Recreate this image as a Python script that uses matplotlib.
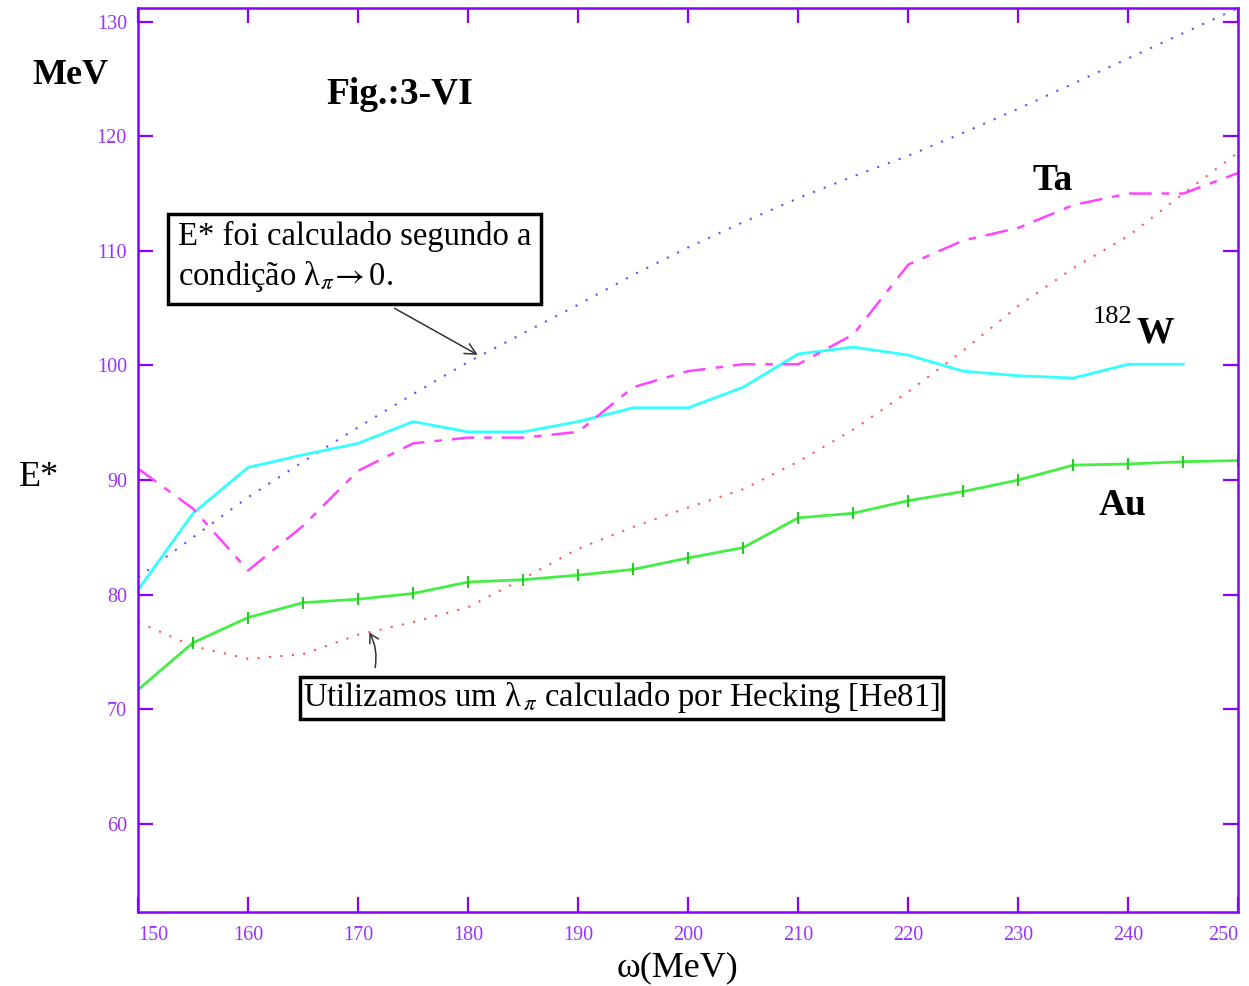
import numpy as np
import matplotlib.pyplot as plt

plt.rcParams['font.family'] = ['Liberation Serif', 'DejaVu Sans']
plt.rcParams['mathtext.fontset'] = 'stix'

# omega (MeV), 5 MeV steps
omega = [150, 155, 160, 165, 170, 175, 180, 185, 190, 195, 200,
         205, 210, 215, 220, 225, 230, 235, 240, 245, 250]

# E* with lambda_pi -> 0 (blue dotted)
e_lambda0 = [81.5, 85.0, 88.5, 91.6, 94.6, 97.5, 100.3, 102.8, 105.3, 107.9, 110.3,
             112.5, 114.6, 116.5, 118.3, 120.3, 122.4, 124.6, 126.8, 129.0, 131.2]
# 182W (cyan), ends at 245
e_w = [80.4, 87.1, 91.1, 92.2, 93.2, 95.1, 94.2, 94.2, 95.1, 96.3, 96.3,
       98.1, 101.0, 101.6, 100.9, 99.5, 99.1, 98.9, 100.1, 100.1]
# Ta (magenta dash-dot)
e_ta = [91.0, 87.5, 82.1, 86.0, 90.8, 93.2, 93.7, 93.7, 94.2, 98.1, 99.5,
        100.1, 100.1, 102.7, 108.8, 110.9, 112.0, 114.0, 115.0, 115.0, 116.8]
# Au (green, markers)
e_au = [71.7, 75.8, 78.0, 79.3, 79.6, 80.1, 81.1, 81.3, 81.7, 82.2, 83.2,
        84.1, 86.7, 87.1, 88.2, 89.0, 90.0, 91.3, 91.4, 91.6, 91.7]
# Au with lambda_pi from Hecking (red dotted)
e_au_heck = [77.6, 75.5, 74.4, 74.8, 76.5, 77.6, 78.9, 81.4, 84.0, 85.9, 87.6,
             89.2, 91.6, 94.4, 97.7, 101.3, 105.2, 108.5, 111.3, 115.0, 118.6]

xticks = [150, 160, 170, 180, 190, 200, 210, 220, 230, 240, 250]
yticks = [60, 70, 80, 90, 100, 110, 120, 130]

purple = '#8800ff'
label_purple = '#9933ff'

fig = plt.figure(figsize=(12.49, 9.86), dpi=100)
ax = fig.add_axes([0.1105, 0.075, 0.881, 0.917])

ax.plot(omega, e_lambda0, color='#5555ff', lw=1.5, linestyle=(0, (1, 4.5)))
ax.plot(omega, e_au_heck, color='#ff5555', lw=1.5, linestyle=(0, (1, 4.5)))
ax.plot(omega[:len(e_w)], e_w, color='#33ffff', lw=2)
ax.plot(omega, e_ta, color='#ff44ff', lw=1.8, linestyle=(0, (9, 4, 3, 4)))
ax.plot(omega, e_au, color='#44ee44', lw=2, marker='|', markersize=9,
        markeredgewidth=1.5, markeredgecolor='#22cc22')

ax.set_xlim(150, 250)
ax.set_ylim(52.3, 131.2)
ax.set_xticks(xticks)
ax.set_yticks(yticks)

for s in ax.spines.values():
    s.set_color(purple)
    s.set_linewidth(1.8)
ax.tick_params(axis='both', direction='in', length=11, width=1.6, color=purple,
               labelcolor=label_purple, labelsize=14.5, top=True, right=True)
ax.tick_params(axis='y', pad=8)
ax.tick_params(axis='x', pad=10)
xl = ax.get_xticklabels()
xl[0].set_ha('left')
xl[-1].set_ha('right')

# labels
fig.text(70 / 1249, 1 - 75 / 986, 'MeV', fontsize=26, fontweight='bold',
         ha='center', va='center')
fig.text(39 / 1249, 1 - 478 / 986, 'E*', fontsize=26, ha='center', va='center')
fig.text(677 / 1249, 1 - 968 / 986, 'ω(MeV)', fontsize=26,
         ha='center', va='center')

ax.text(173.8, 123.6, 'Fig.:3-VI', fontsize=27, fontweight='bold',
        ha='center', va='center')
ax.text(233.1, 116.1, 'Ta', fontsize=27, fontweight='bold', ha='center', va='center')
ax.text(239.5, 87.8, 'Au', fontsize=27, fontweight='bold', ha='center', va='center')
ax.text(242.4, 102.8, 'W', fontsize=27, fontweight='bold', ha='center', va='center')
ax.text(238.6, 104.2, '182', fontsize=19, ha='center', va='center')

# annotation boxes
ax.text(153.6, 109.4, 'E* foi calculado segundo a\ncondição λ$_{\\pi}\\!\\rightarrow$0.',
        fontsize=23.5, ha='left', va='center', linespacing=1.25,
        bbox=dict(boxstyle='square,pad=0.3', fc='white', ec='black', lw=2.5))
ax.annotate('', xy=(181.1, 100.8), xytext=(173.1, 105.1),
            arrowprops=dict(arrowstyle='->,head_length=0.8,head_width=0.4',
                            color='#333333', lw=1.1))

ax.text(165.0, 71.0, 'Utilizamos um λ$_{\\,\\pi}$ calculado por Hecking [He81]',
        fontsize=23.5, ha='left', va='center',
        bbox=dict(boxstyle='square,pad=0.1', fc='white', ec='black', lw=2.5))
ax.annotate('', xy=(170.9, 76.9), xytext=(171.5, 73.4),
            arrowprops=dict(arrowstyle='->,head_length=0.6,head_width=0.35',
                            color='#333333', lw=1.1,
                            connectionstyle='arc3,rad=0.2'))

fig.savefig('out.png', dpi=100)
